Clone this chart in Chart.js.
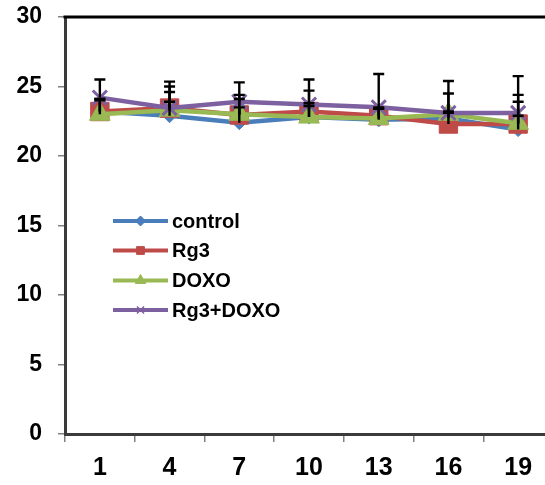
<!DOCTYPE html>
<html>
<head>
<meta charset="utf-8">
<script src="https://cdn.jsdelivr.net/npm/chart.js@4"></script>
<style>
  html, body { margin: 0; padding: 0; background: #fff; overflow: hidden; }
  #wrap { position: absolute; left: 0; top: 0; width: 567px; height: 485px; }
</style>
</head>
<body>
<div id="wrap"><canvas id="c" width="567" height="485" style="width:567px;height:485px"></canvas></div>
<script>
const categories = ['1', '4', '7', '10', '13', '16', '19'];
const seriesNames = ['control', 'Rg3', 'DOXO', 'Rg3+DOXO'];
const control    = [23.2, 22.9, 22.4, 22.8, 22.6, 22.7, 21.9];
const rg3        = [23.2, 23.45, 22.95, 23.2, 22.9, 22.3, 22.3];
const doxo       = [23.0, 23.3, 23.0, 22.8, 22.7, 23.0, 22.35];
const rg3doxo    = [24.2, 23.45, 23.9, 23.7, 23.5, 23.1, 23.1];
const controlErr = [0.9, 1.0, 1.1, 0.8, 0.8, 0.5, 1.0];
const rg3Err     = [0.9, 1.55, 1.45, 1.5, 0.6, 0.8, 2.1];
const doxoErr    = [1.0, 1.3, 1.1, 1.0, 0.7, 1.5, 1.55];
const rg3doxoErr = [1.3, 1.9, 1.4, 1.8, 2.4, 2.3, 2.65];
const yTicks = [0, 5, 10, 15, 20, 25, 30];

const colors = ['#4A7EBB', '#BE4B48', '#98B954', '#7D60A0'];
const styles = ['rectRot', 'rect', 'triangle', 'crossRot'];
const radii = [7, 13, 12, 10];
const values = [control, rg3, doxo, rg3doxo];
const errors = [controlErr, rg3Err, doxoErr, rg3doxoErr];
const FONT = '"Liberation Sans", Arial, sans-serif';

const datasets = seriesNames.map((name, i) => ({
  label: name,
  data: values[i],
  errUp: errors[i],
  order: 3 - i,
  borderColor: colors[i],
  backgroundColor: colors[i],
  pointBackgroundColor: colors[i],
  pointBorderColor: colors[i],
  pointStyle: styles[i],
  pointRadius: radii[i],
  pointBorderWidth: i === 3 ? 3 : 1,
  borderWidth: 4.5,
  tension: 0,
  fill: false
}));

const errorBars = {
  id: 'errorBars',
  afterDatasetsDraw(chart) {
    const ctx = chart.ctx;
    const ys = chart.scales.y;
    ctx.save();
    ctx.strokeStyle = '#000';
    ctx.lineWidth = 2.4;
    chart.data.datasets.forEach((ds, di) => {
      const meta = chart.getDatasetMeta(di);
      meta.data.forEach((pt, j) => {
        const top = ys.getPixelForValue(ds.data[j] + ds.errUp[j]);
        ctx.beginPath();
        ctx.moveTo(pt.x, pt.y);
        ctx.lineTo(pt.x, top);
        ctx.moveTo(pt.x - 5.5, top);
        ctx.lineTo(pt.x + 5.5, top);
        ctx.stroke();
      });
    });
    ctx.restore();
  }
};

const frame = {
  id: 'frame',
  afterDraw(chart) {
    const ctx = chart.ctx;
    const a = chart.chartArea;
    ctx.save();
    ctx.strokeStyle = '#000';
    ctx.lineWidth = 3;
    ctx.beginPath();
    ctx.moveTo(a.left - 1.5, a.top);
    ctx.lineTo(a.right, a.top);
    ctx.stroke();
    ctx.restore();
  }
};

const legendBox = {
  id: 'legendBox',
  afterDraw(chart) {
    const ctx = chart.ctx;
    const x0 = 113, x1 = 168, tx = 172;
    const rows = [221, 250.5, 280.5, 310];
    const r = [5, 5.5, 6, 5];
    ctx.save();
    chart.data.datasets.forEach((ds, i) => {
      const y = rows[i];
      ctx.strokeStyle = ds.borderColor;
      ctx.lineWidth = 4;
      ctx.beginPath();
      ctx.moveTo(x0, y);
      ctx.lineTo(x1, y);
      ctx.stroke();
      ctx.fillStyle = ds.borderColor;
      ctx.strokeStyle = ds.borderColor;
      ctx.lineWidth = i === 3 ? 1.5 : 1;
      Chart.helpers.drawPoint(ctx, { pointStyle: ds.pointStyle, radius: r[i], rotation: 0, borderWidth: ctx.lineWidth }, (x0 + x1) / 2, y);
      ctx.fillStyle = '#000';
      ctx.font = 'bold 20px ' + FONT;
      ctx.textBaseline = 'middle';
      ctx.textAlign = 'left';
      ctx.fillText(ds.label, tx, y + 1);
    });
    ctx.restore();
  }
};

new Chart(document.getElementById('c'), {
  type: 'line',
  data: { labels: categories, datasets },
  plugins: [errorBars, frame, legendBox],
  options: {
    responsive: false,
    animation: false,
    devicePixelRatio: 1,
    layout: { padding: { top: 17, right: 1, left: 0, bottom: 0 } },
    plugins: { legend: { display: false }, tooltip: { enabled: false } },
    scales: {
      x: {
        type: 'category',
        offset: true,
        grid: { offset: true, drawOnChartArea: false, drawTicks: true, tickLength: 8, color: '#808080', lineWidth: 1.5 },
        border: { display: true, color: '#3a3a3a', width: 3 },
        ticks: { color: '#000', font: { family: FONT, size: 25, weight: 'bold' }, padding: 11, maxRotation: 0 },
        afterFit(s) { s.height = 51; s.paddingLeft = 0; s.paddingRight = 0; }
      },
      y: {
        min: 0, max: 30,
        afterBuildTicks(s) { s.ticks = yTicks.map(v => ({ value: v })); },
        grid: { drawOnChartArea: false, drawTicks: true, tickLength: 7, color: '#808080', lineWidth: 1.5 },
        border: { display: true, color: '#3a3a3a', width: 3 },
        ticks: { color: '#000', font: { family: FONT, size: 23, weight: 'bold' }, padding: 16 },
        afterFit(s) { s.width = 65; s.paddingTop = 0; s.paddingBottom = 0; }
      }
    }
  }
});
</script>
</body>
</html>
